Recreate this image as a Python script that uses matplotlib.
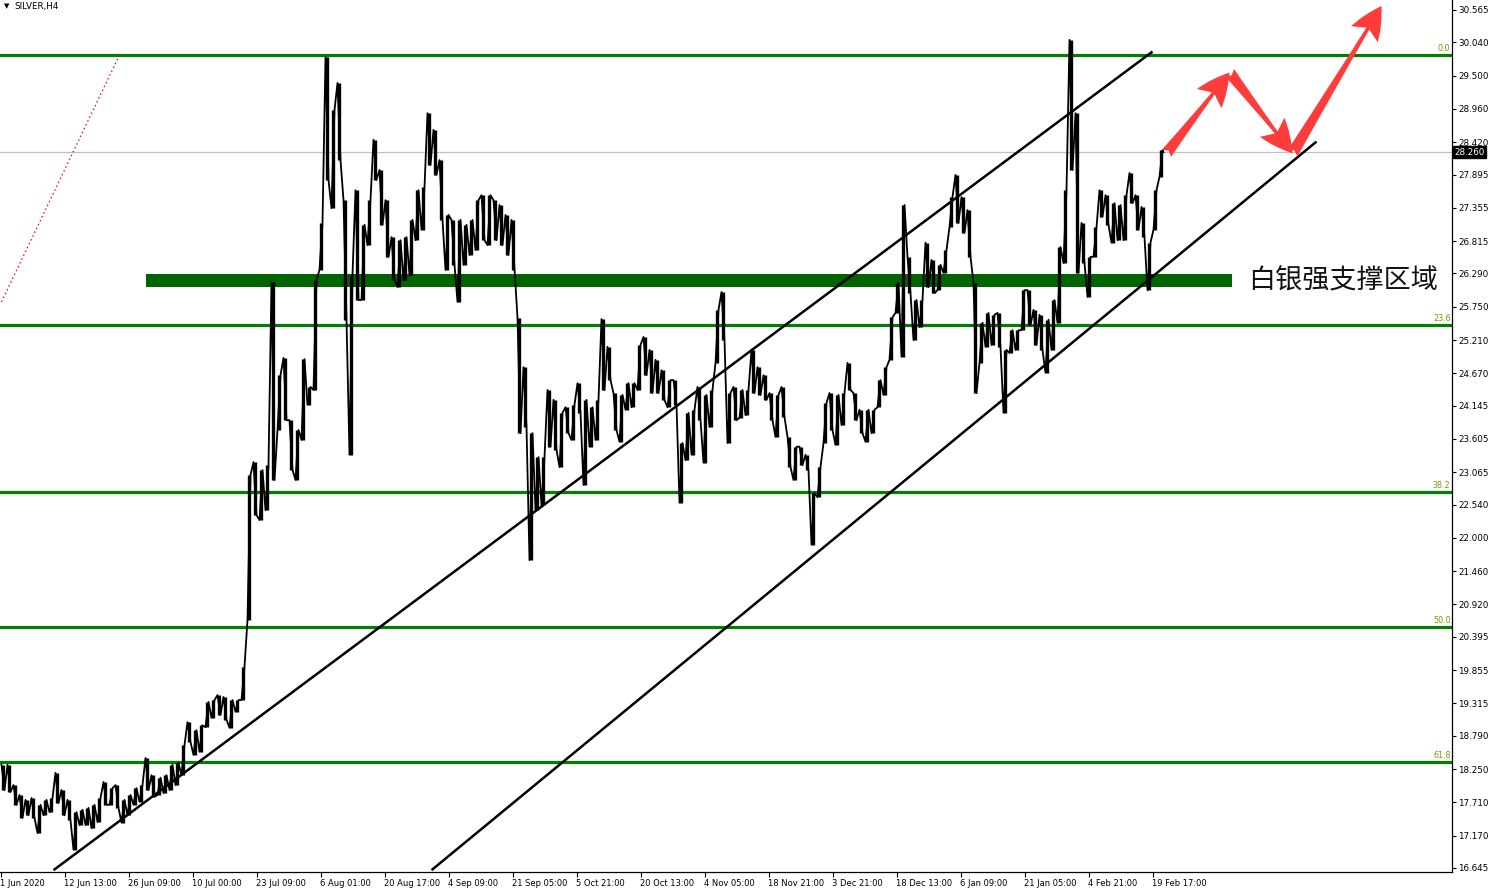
import numpy as np
import matplotlib
matplotlib.use("Agg")
import matplotlib.pyplot as plt
from matplotlib.patches import FancyArrowPatch

# ---------------- data ----------------
symbol_title = "SILVER,H4"
bar_step = 6  # chart x-units between sampled bars

bar_high = [
    18.32, 18.32, 17.99, 17.83, 17.75, 17.78, 17.67, 17.75, 17.78, 18.19,
    17.91, 17.75, 17.55, 17.59, 17.62, 17.67, 17.78, 18.04, 17.94, 17.99,
    17.75, 17.83, 17.94, 17.99, 18.43, 18.15, 18.11, 18.15, 18.32, 18.35,
    18.64, 19.01, 18.88, 18.96, 19.34, 19.37, 19.45, 19.42, 19.37, 19.37,
    19.91, 23.02, 23.23, 23.10, 23.18, 26.15, 24.64, 24.92, 23.91, 23.75,
    24.90, 24.45, 26.18, 27.11, 29.80, 28.94, 29.38, 27.48, 26.27, 27.64,
    27.08, 27.48, 28.46, 27.97, 27.48, 26.88, 26.83, 26.88, 27.16, 27.64,
    27.69, 28.89, 28.62, 28.13, 27.24, 27.16, 27.16, 27.08, 27.16, 27.48,
    27.56, 27.56, 27.48, 27.40, 27.24, 27.16, 25.57, 24.77, 23.70, 23.31,
    23.31, 24.40, 24.24, 24.03, 24.12, 24.16, 24.51, 24.24, 24.12, 24.24,
    25.55, 25.10, 24.35, 24.32, 24.51, 24.51, 25.13, 25.26, 25.05, 24.89,
    24.72, 24.56, 24.56, 23.54, 24.03, 24.08, 24.45, 24.32, 24.40, 25.70,
    25.99, 24.35, 24.45, 24.40, 24.40, 25.05, 24.77, 24.64, 24.35, 24.32,
    24.45, 23.64, 23.48, 23.48, 23.35, 22.73, 23.15, 24.19, 24.35, 24.32,
    24.35, 24.84, 24.35, 24.08, 24.08, 24.08, 24.56, 24.77, 25.58, 26.14,
    27.40, 26.56, 25.86, 25.86, 26.79, 26.51, 26.43, 26.67, 27.53, 27.89,
    27.53, 27.32, 26.14, 25.49, 25.65, 25.62, 25.65, 25.05, 25.37, 25.37,
    26.02, 26.02, 25.70, 25.62, 25.54, 25.86, 26.72, 27.64, 30.08, 28.89,
    27.11, 26.56, 27.04, 27.64, 27.56, 27.43, 27.40, 27.56, 27.92, 27.56,
    27.37, 26.79, 27.64, 28.29,
]
bar_low = [
    17.91, 17.88, 17.67, 17.46, 17.50, 17.46, 17.21, 17.50, 17.55, 17.70,
    17.50, 17.42, 16.94, 17.34, 17.34, 17.29, 17.39, 17.67, 17.67, 17.62,
    17.38, 17.50, 17.67, 17.72, 17.91, 17.80, 17.83, 17.86, 17.91, 17.99,
    18.15, 18.69, 18.48, 18.53, 18.93, 19.08, 19.13, 19.05, 18.92, 19.18,
    19.37, 20.67, 22.37, 22.29, 22.45, 22.94, 23.75, 23.91, 23.10, 22.94,
    23.59, 24.16, 24.40, 26.35, 27.81, 27.35, 28.13, 25.54, 23.35, 25.86,
    25.86, 26.75, 27.81, 27.08, 26.56, 26.18, 26.07, 26.18, 26.26, 26.83,
    27.00, 28.05, 27.89, 27.16, 26.35, 26.43, 25.83, 26.43, 26.59, 26.67,
    26.83, 26.75, 26.83, 26.75, 26.59, 26.35, 23.70, 23.80, 21.64, 22.45,
    22.53, 23.48, 23.43, 23.15, 23.70, 23.59, 24.03, 22.86, 23.48, 23.59,
    24.40, 24.56, 23.75, 23.56, 24.08, 24.12, 24.40, 24.64, 24.35, 24.35,
    24.24, 24.12, 24.16, 22.57, 23.26, 23.35, 23.91, 23.22, 23.80, 24.84,
    25.21, 23.54, 23.91, 23.95, 23.99, 24.35, 24.32, 24.24, 23.91, 23.64,
    23.96, 23.15, 22.94, 23.18, 23.10, 21.89, 22.66, 23.54, 23.75, 23.51,
    23.83, 24.40, 23.91, 23.70, 23.56, 23.70, 24.12, 24.32, 24.89, 25.65,
    24.94, 25.97, 25.21, 25.42, 26.07, 25.97, 26.02, 26.30, 27.04, 27.11,
    26.95, 26.56, 24.35, 24.84, 25.10, 25.13, 25.10, 24.03, 25.00, 25.05,
    25.37, 25.45, 25.13, 25.05, 24.68, 25.05, 25.49, 26.46, 27.97, 26.30,
    26.46, 25.91, 26.56, 27.21, 27.08, 26.79, 26.83, 26.83, 27.43, 27.00,
    26.88, 26.02, 27.00, 27.86,
]
last_price = 28.260

x_tick_labels = ["1 Jun 2020", "12 Jun 13:00", "26 Jun 09:00", "10 Jul 00:00",
                 "23 Jul 09:00", "6 Aug 01:00", "20 Aug 17:00", "4 Sep 09:00",
                 "21 Sep 05:00", "5 Oct 21:00", "20 Oct 13:00", "4 Nov 05:00",
                 "18 Nov 21:00", "3 Dec 21:00", "18 Dec 13:00", "6 Jan 09:00",
                 "21 Jan 05:00", "4 Feb 21:00", "19 Feb 17:00"]
x_tick_spacing = 64

y_tick_values = [30.565, 30.040, 29.500, 28.960, 28.420, 27.895, 27.355, 26.815,
                 26.290, 25.750, 25.210, 24.670, 24.145, 23.605, 23.065, 22.540,
                 22.000, 21.460, 20.920, 20.395, 19.855, 19.315, 18.790, 18.250,
                 17.710, 17.170, 16.645]
y_min, y_max = 16.58, 30.727

# Fibonacci retracement (high -> low)
fib_high = 29.835
fib_low = 11.275
fib_ratios = [0.0, 23.6, 38.2, 50.0, 61.8]
fib_anchor_x = [0, 118]
fib_anchor_price = [25.83, 29.835]

# support zone
support_x = [144, 1230]
support_low, support_high = 26.07, 26.28
support_text = "白银强支撑区域"

# channel trend lines (x, price)
channel_upper_x = [52, 1151]
channel_upper_p = [16.61, 29.89]
channel_lower_x = [430, 1315]
channel_lower_p = [16.61, 28.43]

# projected path (red arrows)
proj_x = [1165, 1228, 1291, 1380]
proj_p = [28.24, 29.55, 28.24, 30.63]

# ---------------- figure ----------------
W, H = 1495, 891
fig = plt.figure(figsize=(W / 100, H / 100), dpi=100)
fig.patch.set_facecolor("white")
ax_w, ax_h = 1452, 872
ax = fig.add_axes([0, (H - ax_h) / H, ax_w / W, ax_h / H])
ax.set_facecolor("white")
ax.set_xlim(-1.5, ax_w - 1.5)
ax.set_ylim(y_min, y_max)

# fib levels
green = "#008000"
for r in fib_ratios:
    lvl = fib_high - (fib_high - fib_low) * r / 100.0
    ax.axhline(lvl, color=green, lw=2.3, zorder=2)
    ax.text(ax_w - 3, lvl + 0.03, f"{r:.1f}", color="#7a9a00", fontsize=5.8,
            ha="right", va="bottom", family="DejaVu Sans", zorder=6)
ax.plot(fib_anchor_x, fib_anchor_price, color="red", lw=0.9, ls=(0, (1.2, 2.2)), zorder=3)

# last-price line
ax.axhline(last_price, color="#c0c0c0", lw=0.9, zorder=1)

# support zone
ax.fill_between(support_x, support_low, support_high, color="#006400", lw=0, zorder=4)
ax.text(1247, (support_low + support_high) / 2, support_text, fontsize=19.5,
        family=["Noto Sans CJK SC", "DejaVu Sans"], fontweight="light",
        color="#111111", ha="left", va="center", zorder=6)

# price bars
bx = np.arange(len(bar_high)) * bar_step
hi = np.array(bar_high)
lo = np.array(bar_low)
ax.vlines(bx + 1.5, lo, hi, color="black", lw=2.4, zorder=5)
path_x, path_y = [], []
for i in range(len(bx)):
    mid_next = (hi[i + 1] + lo[i + 1]) / 2 if i + 1 < len(bx) else last_price
    if mid_next >= (hi[i] + lo[i]) / 2:
        path_x += [bx[i], bx[i] + 3]
        path_y += [lo[i], hi[i]]
    else:
        path_x += [bx[i], bx[i] + 3]
        path_y += [hi[i], lo[i]]
path_x.append(bx[-1] + 4)
path_y.append(last_price)
ax.plot(path_x, path_y, color="black", lw=1.3, zorder=5)

# channel lines
ax.plot(channel_upper_x, channel_upper_p, color="black", lw=1.8, zorder=5,
        solid_capstyle="butt")
ax.plot(channel_lower_x, channel_lower_p, color="black", lw=1.8, zorder=5,
        solid_capstyle="butt")

# red projection arrows
for i in range(len(proj_x) - 1):
    arr = FancyArrowPatch((proj_x[i], proj_p[i]), (proj_x[i + 1], proj_p[i + 1]),
                          arrowstyle="fancy,head_length=0.85,head_width=0.8,tail_width=0.3",
                          mutation_scale=28, color="#ff3c3c", lw=0,
                          shrinkA=0, shrinkB=0, zorder=7, clip_on=False)
    ax.add_patch(arr)

# axes styling
for s in ["top", "left"]:
    ax.spines[s].set_visible(False)
for s in ["right", "bottom"]:
    ax.spines[s].set_color("black")
    ax.spines[s].set_linewidth(0.9)

ax.yaxis.tick_right()
ax.set_yticks(y_tick_values)
ax.set_yticklabels([f"{v:.3f}" for v in y_tick_values])
ax.tick_params(axis="y", direction="out", length=3, width=0.8, pad=1.5,
               labelsize=6.3, colors="black", right=True, left=False)

xt = [-1 + x_tick_spacing * k for k in range(len(x_tick_labels))]
ax.set_xticks(xt)
ax.set_xticklabels(x_tick_labels)
ax.tick_params(axis="x", direction="out", length=3.5, width=0.8, pad=1.5,
               labelsize=6.0, colors="black")
for lab in ax.get_xticklabels():
    lab.set_horizontalalignment("left")
for lab in ax.get_xticklabels() + ax.get_yticklabels():
    lab.set_family("DejaVu Sans")

# current price tag
ax.text(1.0 + 2 / ax_w, last_price, f"{last_price:.3f}", transform=ax.get_yaxis_transform(),
        fontsize=6.3, color="white", ha="left", va="center", family="DejaVu Sans",
        bbox=dict(boxstyle="square,pad=0.15", fc="black", ec="black"), zorder=10,
        clip_on=False)

# title
fig.text(4 / W, 1 - 6 / H, "\u25BC", fontsize=5, ha="left", va="center", color="black")
fig.text(14 / W, 1 - 6 / H, symbol_title, fontsize=6.3, ha="left", va="center",
         color="black", family="DejaVu Sans")

fig.savefig("out.png", dpi=100, facecolor="white")
